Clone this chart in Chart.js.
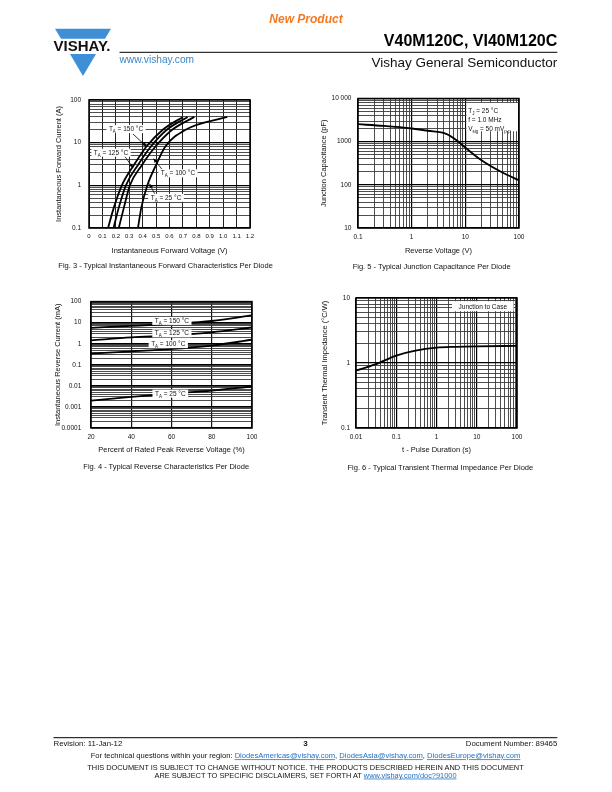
<!DOCTYPE html>
<html>
<head>
<meta charset="utf-8">
<script src="https://cdn.jsdelivr.net/npm/chart.js@4.4.0/dist/chart.umd.min.js"></script>
<style>
  html, body { margin: 0; padding: 0; background: #fff; }
  body { width: 612px; height: 792px; position: relative; overflow: hidden; }
  canvas { position: absolute; }
  svg.page { position: absolute; left: 0; top: 0; will-change: transform; }
  svg text { font-family: "Liberation Sans", Arial, Helvetica, sans-serif; }
</style>
</head>
<body>

<svg class="page" width="612" height="792" viewBox="0 0 612 792">
  <!-- logo -->
  <polygon points="55,28.7 111,28.7 105,38.8 61,38.8" fill="#3f8fd6"/>
  <polygon points="70,54 96,54 83,76" fill="#3f8fd6"/>
  <text x="53.5" y="50.6" font-size="14" font-weight="bold" fill="#111" textLength="57" lengthAdjust="spacingAndGlyphs">VISHAY.</text>

  <text x="306" y="22.5" font-size="12" font-weight="bold" font-style="italic" fill="#f47920" text-anchor="middle">New Product</text>
  <text x="557.3" y="46" font-size="16" font-weight="bold" fill="#000" text-anchor="end">V40M120C, VI40M120C</text>
  <line x1="119.5" y1="52.3" x2="557.3" y2="52.3" stroke="#000" stroke-width="1"/>
  <text x="119.5" y="63" font-size="10.2" fill="#3a86c8">www.vishay.com</text>
  <text x="557.3" y="67" font-size="13.5" fill="#111" text-anchor="end">Vishay General Semiconductor</text>

  <!-- captions -->
  <text x="58.3" y="267.8" font-size="7.5" fill="#111">Fig. 3 - Typical Instantaneous Forward Characteristics Per Diode</text>
  <text x="352.7" y="269.2" font-size="7.5" fill="#111">Fig. 5 - Typical Junction Capacitance Per Diode</text>
  <text x="83.3" y="469" font-size="7.5" fill="#111">Fig. 4 - Typical Reverse Characteristics Per Diode</text>
  <text x="347.5" y="470" font-size="7.5" fill="#111">Fig. 6 - Typical Transient Thermal Impedance Per Diode</text>

  <!-- footer -->
  <line x1="53.5" y1="737.7" x2="557.3" y2="737.7" stroke="#000" stroke-width="1"/>
  <text x="53.5" y="745.6" font-size="7.8" fill="#111">Revision: 11-Jan-12</text>
  <text x="305.5" y="746" font-size="8" font-weight="bold" fill="#111" text-anchor="middle">3</text>
  <text x="557.3" y="745.6" font-size="7.8" fill="#111" text-anchor="end">Document Number: 89465</text>
  <text x="305.5" y="758.3" font-size="7.6" fill="#111" text-anchor="middle"><tspan fill="#111">For technical questions within your region: </tspan><tspan fill="#1f6fc0" text-decoration="underline">DiodesAmericas@vishay.com</tspan><tspan fill="#111">, </tspan><tspan fill="#1f6fc0" text-decoration="underline">DiodesAsia@vishay.com</tspan><tspan fill="#111">, </tspan><tspan fill="#1f6fc0" text-decoration="underline">DiodesEurope@vishay.com</tspan></text>
  <text x="305.5" y="770" font-size="7.4" fill="#111" text-anchor="middle">THIS DOCUMENT IS SUBJECT TO CHANGE WITHOUT NOTICE. THE PRODUCTS DESCRIBED HEREIN AND THIS DOCUMENT</text>
  <text x="305.5" y="777.6" font-size="7.4" fill="#111" text-anchor="middle"><tspan fill="#111">ARE SUBJECT TO SPECIFIC DISCLAIMERS, SET FORTH AT </tspan><tspan fill="#1f6fc0" text-decoration="underline">www.vishay.com/doc?91000</tspan></text>
</svg>

<canvas id="fig3" width="225" height="170" style="left:40px;top:88px;width:225px;height:170px"></canvas>
<canvas id="fig5" width="230" height="170" style="left:300px;top:88px;width:230px;height:170px"></canvas>
<canvas id="fig4" width="225" height="170" style="left:40px;top:288px;width:225px;height:170px"></canvas>
<canvas id="fig6" width="230" height="170" style="left:300px;top:288px;width:230px;height:170px"></canvas>

<script>
// Fig. 3 - forward characteristics: current (A) and voltage (V) per temperature
const fwdCurrent = [0.1, 0.3, 1, 3, 8, 20, 40];
const fwdV150 = [0.142, 0.185, 0.245, 0.335, 0.427, 0.55, 0.70];
const fwdV125 = [0.183, 0.222, 0.275, 0.365, 0.46, 0.58, 0.735];
const fwdV100 = [0.222, 0.26, 0.305, 0.395, 0.494, 0.62, 0.785];
const fwdV25 = [0.365, 0.39, 0.435, 0.50, 0.568, 0.72, 1.03];
const fwdXTicks = [0, 0.1, 0.2, 0.3, 0.4, 0.5, 0.6, 0.7, 0.8, 0.9, 1.0, 1.1, 1.2];
const fwdXLabels = ['0', '0.1', '0.2', '0.3', '0.4', '0.5', '0.6', '0.7', '0.8', '0.9', '1.0', '1.1', '1.2'];
const fwdYLabels = [0.1, 1, 10, 100];

// Fig. 5 - junction capacitance
const capVoltage = [0.1, 0.3, 1, 2, 4.5, 7, 10, 20, 50, 100];
const capPf = [2540, 2320, 2020, 1790, 1500, 1060, 730, 370, 190, 128];
const capXLabels = [0.1, 1, 10, 100];
const capYLabels = [10, 100, 1000, 10000];

// Fig. 4 - reverse characteristics: % of rated voltage, current (mA)
const revPercent = [20, 40, 60, 80, 100];
const revI150 = [5.7, 7.0, 8.8, 12, 22];
const revI125 = [1.45, 2.0, 2.5, 3.5, 5.9];
const revI100 = [0.34, 0.43, 0.56, 0.82, 1.55];
const revI25 = [0.002, 0.003, 0.0043, 0.006, 0.0093];
const revXTicks = [20, 40, 60, 80, 100];
const revYLabels = [0.0001, 0.001, 0.01, 0.1, 1, 10, 100];

// Fig. 6 - transient thermal impedance
const pulseTime = [0.01, 0.03, 0.1, 0.3, 1, 3, 10, 100];
const thermalZ = [0.76, 0.95, 1.3, 1.55, 1.72, 1.77, 1.8, 1.83];
const pulseXLabels = [0.01, 0.1, 1, 10, 100];
const thermalYLabels = [0.1, 1, 10];

// curve tags (data coordinates): label centre, arrow start, arrow tip
const fwdTags = [
  { temp: '150', x: 0.276, y: 20.7, ax: 0.328, ay: 15.9, tx: 0.43, ty: 8.0 },
  { temp: '125', x: 0.164, y: 5.8, ax: 0.268, ay: 4.7, tx: 0.33, ty: 2.53 },
  { temp: '100', x: 0.663, y: 1.91, ax: 0.544, ay: 2.37, tx: 0.479, ty: 4.3 },
  { temp: '25', x: 0.574, y: 0.51, ax: 0.49, ay: 0.63, tx: 0.449, ty: 1.11 }
];
const revTags = [
  { temp: '150', x: 60.2, y: 12.1 },
  { temp: '125', x: 60.2, y: 3.13 },
  { temp: '100', x: 58.4, y: 0.955 },
  { temp: '25', x: 59.4, y: 0.0043 }
];

const FONT = '"Liberation Sans", Arial, Helvetica, sans-serif';
Chart.defaults.font.family = FONT;
Chart.defaults.color = '#111';

function logGrid(fromExp, toExp) {
  const out = [];
  for (let e = fromExp; e < toExp; e++) {
    for (let m = 1; m < 10; m++) out.push(m * Math.pow(10, e));
  }
  out.push(Math.pow(10, toExp));
  return out;
}

function isDecade(v) {
  const l = Math.log10(v);
  return Math.abs(l - Math.round(l)) < 1e-6;
}

function logLabel(list, fmt) {
  return function (value) {
    const hit = list.find(l => Math.abs(Math.log10(l) - Math.log10(value)) < 1e-6);
    return hit === undefined ? '' : (fmt ? fmt(hit) : String(hit));
  };
}

function series(xs, ys) {
  return {
    data: xs.map((x, i) => ({ x: x, y: ys[i] })),
    borderColor: '#000',
    borderWidth: 1.8,
    pointRadius: 0,
    fill: false,
    cubicInterpolationMode: 'monotone'
  };
}

function richWidth(ctx, parts, size) {
  let w = 0;
  parts.forEach(p => {
    ctx.font = (p.sub ? size * 0.68 : size) + 'px ' + FONT;
    w += ctx.measureText(p.t).width;
  });
  return w;
}

function drawRich(ctx, parts, x, y, size) {
  let cx = x;
  parts.forEach(p => {
    const fs = p.sub ? size * 0.68 : size;
    ctx.font = fs + 'px ' + FONT;
    ctx.fillText(p.t, cx, y + (p.sub ? size * 0.3 : 0));
    cx += ctx.measureText(p.t).width;
  });
}

const framePlugin = {
  id: 'frame',
  beforeDatasetsDraw(chart) {
    const { ctx, chartArea: a } = chart;
    ctx.save();
    ctx.strokeStyle = '#000';
    ctx.lineWidth = 1.5;
    ctx.strokeRect(a.left, a.top, a.right - a.left, a.bottom - a.top);
    ctx.restore();
  }
};

const tagPlugin = {
  id: 'tags',
  afterDatasetsDraw(chart, args, opts) {
    const items = opts.items || [];
    if (!items.length) return;
    const { ctx } = chart;
    const xs = chart.scales.x, ys = chart.scales.y;
    const size = opts.size || 6.5;
    ctx.save();
    items.forEach(t => {
      if (t.ax !== undefined) {
        const x0 = xs.getPixelForValue(t.ax), y0 = ys.getPixelForValue(t.ay);
        const x1 = xs.getPixelForValue(t.tx), y1 = ys.getPixelForValue(t.ty);
        const ang = Math.atan2(y1 - y0, x1 - x0);
        ctx.strokeStyle = '#000';
        ctx.lineWidth = 0.8;
        ctx.beginPath();
        ctx.moveTo(x0, y0);
        ctx.lineTo(x1 - Math.cos(ang) * 3, y1 - Math.sin(ang) * 3);
        ctx.stroke();
        ctx.fillStyle = '#000';
        ctx.beginPath();
        ctx.moveTo(x1, y1);
        ctx.lineTo(x1 - Math.cos(ang) * 4.5 + Math.sin(ang) * 1.8, y1 - Math.sin(ang) * 4.5 - Math.cos(ang) * 1.8);
        ctx.lineTo(x1 - Math.cos(ang) * 4.5 - Math.sin(ang) * 1.8, y1 - Math.sin(ang) * 4.5 + Math.cos(ang) * 1.8);
        ctx.closePath();
        ctx.fill();
      }
      const parts = [{ t: 'T' }, { t: 'A', sub: true }, { t: ' = ' + t.temp + ' \u00b0C' }];
      const w = richWidth(ctx, parts, size) + 5;
      const h = 8;
      const cx = xs.getPixelForValue(t.x), cy = ys.getPixelForValue(t.y);
      ctx.fillStyle = '#fff';
      ctx.fillRect(cx - w / 2, cy - h / 2, w, h);
      ctx.fillStyle = '#111';
      ctx.textBaseline = 'alphabetic';
      ctx.textAlign = 'left';
      drawRich(ctx, parts, cx - w / 2 + 2.5, cy + size * 0.33, size);
    });
    ctx.restore();
  }
};

const notePlugin = {
  id: 'note',
  afterDatasetsDraw(chart, args, opts) {
    if (!opts.lines) return;
    const { ctx, chartArea: a } = chart;
    const size = opts.size || 6.5;
    const left = a.right - opts.right - opts.width;
    const top = a.top + opts.top;
    ctx.save();
    ctx.fillStyle = '#fff';
    ctx.fillRect(left, top, opts.width, opts.height);
    ctx.fillStyle = '#111';
    ctx.textBaseline = 'alphabetic';
    ctx.textAlign = 'left';
    opts.lines.forEach((parts, i) => {
      const w = richWidth(ctx, parts, size);
      const x = opts.center ? left + (opts.width - w) / 2 : left + opts.padX;
      drawRich(ctx, parts, x, top + opts.firstBase + i * opts.lineGap, size);
    });
    ctx.restore();
  }
};

function gridStyle() {
  return {
    drawTicks: false,
    color: c => (c.tick && isDecade(c.tick.value)) ? '#000' : '#3a3a3a',
    lineWidth: c => (c.tick && isDecade(c.tick.value)) ? 1.2 : 0.9
  };
}

function makeChart(id, cfg) {
  return new Chart(document.getElementById(id), {
    type: 'line',
    data: { datasets: cfg.datasets },
    options: {
      responsive: false,
      animation: false,
      events: [],
      layout: { padding: { left: 0, right: cfg.padRight, top: 9, bottom: 0 } },
      plugins: {
        legend: { display: false },
        tooltip: { enabled: false },
        tags: { items: cfg.tags || [] },
        note: cfg.note || {}
      },
      scales: {
        x: Object.assign({
          position: 'bottom',
          border: { display: false },
          afterFit: s => { s.height = 30; },
          title: { display: true, text: cfg.xTitle, font: { size: 7.5 }, padding: { top: 0, bottom: cfg.xTitlePad } }
        }, cfg.x),
        y: Object.assign({
          position: 'left',
          border: { display: false },
          afterFit: s => { s.width = cfg.yWidth; },
          title: { display: true, text: cfg.yTitle, font: { size: 7.5 }, padding: { top: cfg.yTitlePad, bottom: 0 } }
        }, cfg.y)
      }
    },
    plugins: [framePlugin, tagPlugin, notePlugin]
  });
}

// Fig. 3
makeChart('fig3', {
  datasets: [
    series(fwdV150, fwdCurrent),
    series(fwdV125, fwdCurrent),
    series(fwdV100, fwdCurrent),
    series(fwdV25, fwdCurrent)
  ],
  tags: fwdTags,
  padRight: 15,
  yWidth: 49,
  xTitle: 'Instantaneous Forward Voltage (V)',
  xTitlePad: 2.8,
  yTitle: 'Instantaneous Forward Current (A)',
  yTitlePad: 14,
  x: {
    type: 'linear', min: 0, max: 1.2,
    afterBuildTicks: s => { s.ticks = fwdXTicks.map(v => ({ value: v })); },
    ticks: { autoSkip: false, maxRotation: 0, padding: 5, font: { size: 6 }, callback: (v, i) => fwdXLabels[i] },
    grid: { drawTicks: false, color: '#222', lineWidth: 1 }
  },
  y: {
    type: 'logarithmic', min: 0.1, max: 100,
    afterBuildTicks: s => { s.ticks = logGrid(-1, 2).map(v => ({ value: v })); },
    ticks: { autoSkip: false, padding: 8, font: { size: 6.5 }, callback: logLabel(fwdYLabels) },
    grid: gridStyle()
  }
});

// Fig. 5
makeChart('fig5', {
  datasets: [series(capVoltage, capPf)],
  padRight: 11,
  yWidth: 58,
  xTitle: 'Reverse Voltage (V)',
  xTitlePad: 2.8,
  yTitle: 'Junction Capacitance (pF)',
  yTitlePad: 19.5,
  note: {
    right: 1, top: 4.4, width: 51.6, height: 28.3, padX: 1.8, firstBase: 10, lineGap: 9.2, size: 6.5,
    lines: [
      [{ t: 'T' }, { t: 'J', sub: true }, { t: ' = 25 \u00b0C' }],
      [{ t: 'f = 1.0 MHz' }],
      [{ t: 'V' }, { t: 'sig', sub: true }, { t: ' = 50 mV' }, { t: 'p-p', sub: true }]
    ]
  },
  x: {
    type: 'logarithmic', min: 0.1, max: 100,
    afterBuildTicks: s => { s.ticks = logGrid(-1, 2).map(v => ({ value: v })); },
    ticks: { autoSkip: false, maxRotation: 0, padding: 5, font: { size: 6.5 }, callback: logLabel(capXLabels) },
    grid: gridStyle()
  },
  y: {
    type: 'logarithmic', min: 10, max: 10000,
    afterBuildTicks: s => { s.ticks = logGrid(1, 4).map(v => ({ value: v })); },
    ticks: { autoSkip: false, padding: 6.6, font: { size: 6.5 },
      callback: logLabel(capYLabels, v => v === 10000 ? '10 000' : String(v)) },
    grid: gridStyle()
  }
});

// Fig. 4
makeChart('fig4', {
  datasets: [
    series(revPercent, revI150),
    series(revPercent, revI125),
    series(revPercent, revI100),
    series(revPercent, revI25)
  ],
  tags: revTags,
  padRight: 13,
  yWidth: 51,
  xTitle: 'Percent of Rated Peak Reverse Voltage (%)',
  xTitlePad: 3.5,
  yTitle: 'Instantaneous Reverse Current (mA)',
  yTitlePad: 13.5,
  x: {
    type: 'linear', min: 20, max: 100,
    afterBuildTicks: s => { s.ticks = revXTicks.map(v => ({ value: v })); },
    ticks: { autoSkip: false, maxRotation: 0, padding: 5, font: { size: 6.5 } },
    grid: { drawTicks: false, color: '#111', lineWidth: 1.2 }
  },
  y: {
    type: 'logarithmic', min: 0.0001, max: 100,
    afterBuildTicks: s => { s.ticks = logGrid(-4, 2).map(v => ({ value: v })); },
    ticks: { autoSkip: false, padding: 9.7, font: { size: 6.5 },
      callback: logLabel(revYLabels, v => v < 1 ? v.toFixed(Math.round(-Math.log10(v))) : String(v)) },
    grid: gridStyle()
  }
});

// Fig. 6
makeChart('fig6', {
  datasets: [series(pulseTime, thermalZ)],
  padRight: 13,
  yWidth: 56,
  xTitle: 't - Pulse Duration (s)',
  xTitlePad: 3.5,
  yTitle: 'Transient Thermal Impedance (\u00b0C/W)',
  yTitlePad: 20,
  note: {
    right: 3.4, top: 3.3, width: 61.6, height: 10, padX: 2, firstBase: 7.3, lineGap: 0, size: 6.5, center: true,
    lines: [[{ t: 'Junction to Case' }]]
  },
  x: {
    type: 'logarithmic', min: 0.01, max: 100,
    afterBuildTicks: s => { s.ticks = logGrid(-2, 2).map(v => ({ value: v })); },
    ticks: { autoSkip: false, maxRotation: 0, padding: 5, font: { size: 6.5 }, callback: logLabel(pulseXLabels) },
    grid: gridStyle()
  },
  y: {
    type: 'logarithmic', min: 0.1, max: 10,
    afterBuildTicks: s => { s.ticks = logGrid(-1, 1).map(v => ({ value: v })); },
    ticks: { autoSkip: false, padding: 6, font: { size: 6.5 }, callback: logLabel(thermalYLabels) },
    grid: gridStyle()
  }
});
</script>
</body>
</html>
